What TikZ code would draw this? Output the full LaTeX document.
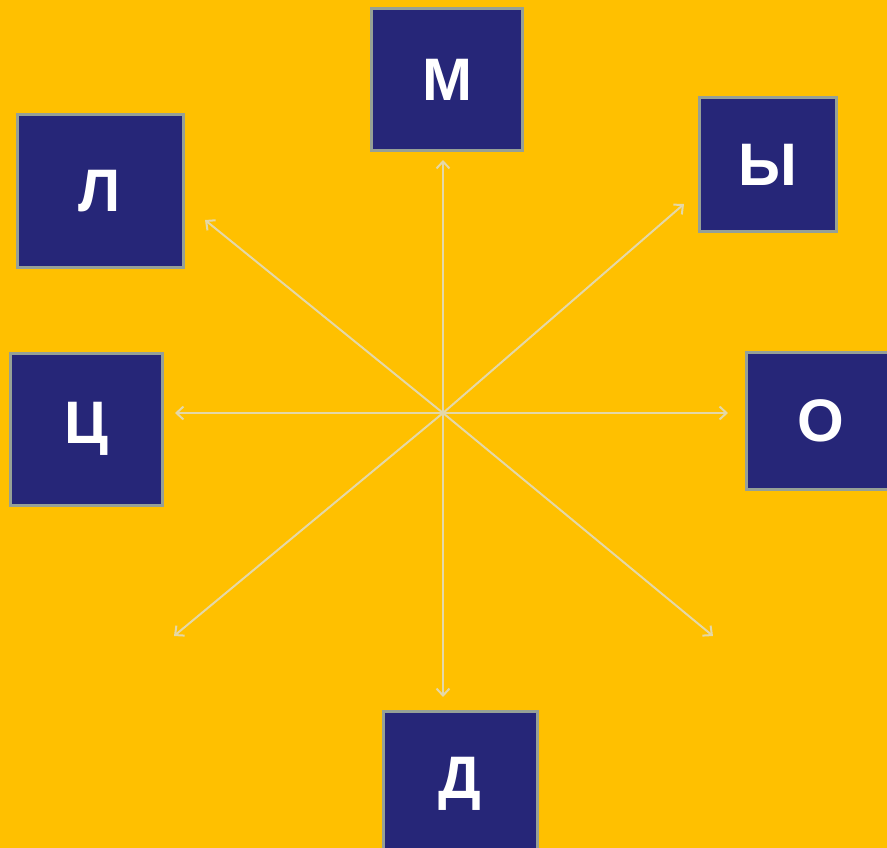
\documentclass[tikz,border=0pt]{standalone}
\usepackage{fontspec}
\setmainfont{Liberation Sans}
\usetikzlibrary{arrows.meta}
\definecolor{bgorange}{RGB}{255,192,0}
\definecolor{boxnavy}{RGB}{38,38,120}
\definecolor{boxrim}{RGB}{150,160,150}
\definecolor{rayline}{RGB}{228,216,168}
\tikzset{
  letterbox/.style={draw=boxrim,line width=3pt,fill=boxnavy,text=white,inner sep=0pt,
    font=\fontsize{60}{60}\selectfont\bfseries},
  ray/.style={draw=rayline,line width=2pt,-{Straight Barb[length=7pt,width=13pt]}}
}
\begin{document}
\begin{tikzpicture}[x=1pt,y=1pt,yscale=-1,xscale=1]
%Background
\fill[bgorange] (0,0) rectangle (887,848);
\useasboundingbox (0,0) rectangle (887,848);

%Shape: Rectangle
\node[letterbox,minimum width=151,minimum height=142] (m) at (447,80) {М};
%Shape: Rectangle
\node[letterbox,minimum width=137,minimum height=134] (y) at (768,165) {Ы};
%Shape: Rectangle
\node[letterbox,minimum width=150,minimum height=137] (o) at (821,421) {О};
%Shape: Rectangle
\node[letterbox,minimum width=154,minimum height=145] (d) at (460,784) {Д};
%Shape: Rectangle
\node[letterbox,minimum width=152,minimum height=152] (c) at (86,429) {Ц};
%Shape: Rectangle
\node[letterbox,minimum width=166,minimum height=152] (l) at (100,191) {Л};

%Ray ends
\coordinate (hub) at (443,413);
\coordinate (tipm) at (443,160);
\coordinate (tipy) at (684,204);
\coordinate (tipo) at (728,413);
\coordinate (tipdr) at (713,636);
\coordinate (tipd) at (443,697);
\coordinate (tipdl) at (174,636);
\coordinate (tipc) at (175,413);
\coordinate (tipl) at (205,220);

%Straight Lines
\foreach \t in {tipm,tipy,tipo,tipdr,tipd,tipdl,tipc,tipl}
  \draw[ray] (hub) -- (\t);
\end{tikzpicture}
\end{document}
